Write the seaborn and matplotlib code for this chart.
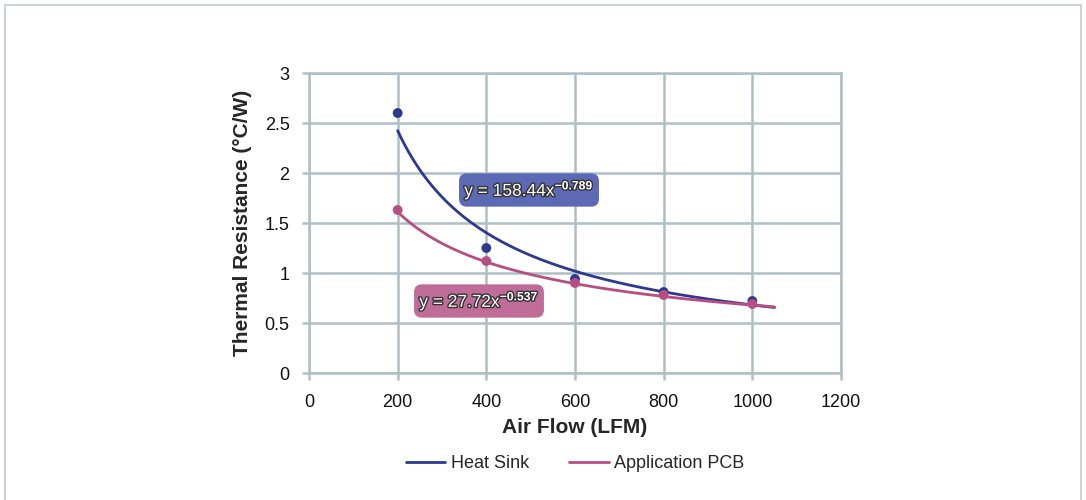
import numpy as np
import pandas as pd
import matplotlib.pyplot as plt
import matplotlib.patheffects as pe
from matplotlib.patches import Rectangle
import seaborn as sns

# measured points
air_flow = [200, 400, 600, 800, 1000]
heat_sink = [2.60, 1.25, 0.94, 0.81, 0.72]
app_pcb = [1.63, 1.12, 0.90, 0.78, 0.69]

# power trendlines shown on the chart (y = a * x^b)
series_names = ["Heat Sink", "Application PCB"]
trend_a = [158.44, 27.72]
trend_b = [-0.789, -0.537]
trend_x_end = 1050

colors = ["#2B3990", "#B84D84"]
box_colors = ["#5C6AB5", "#C06C98"]
grid_col = "#AEBFC8"

sns.set_theme(style="white")
plt.rcParams["font.family"] = ["Liberation Sans", "DejaVu Sans"]
plt.rcParams["mathtext.fontset"] = "custom"
plt.rcParams["mathtext.rm"] = "Liberation Sans"
plt.rcParams["mathtext.it"] = "Liberation Sans"
plt.rcParams["mathtext.bf"] = "Liberation Sans:bold"

fig = plt.figure(figsize=(10.86, 5.0), dpi=100)
ax = fig.add_axes([309 / 1086, 1 - 373 / 500, 532 / 1086, 300 / 500])

points = pd.DataFrame({
    "Air Flow": air_flow * 2,
    "R": heat_sink + app_pcb,
    "series": [series_names[0]] * 5 + [series_names[1]] * 5,
})

xs = np.linspace(air_flow[0], trend_x_end, 200)
trend = pd.concat([
    pd.DataFrame({"Air Flow": xs, "R": a * xs ** b, "series": name})
    for name, a, b in zip(series_names, trend_a, trend_b)
])

palette = dict(zip(series_names, colors))
sns.lineplot(data=trend, x="Air Flow", y="R", hue="series", palette=palette,
             linewidth=2, ax=ax, zorder=3)
sns.scatterplot(data=points, x="Air Flow", y="R", hue="series", palette=palette,
                s=50, edgecolor="none", ax=ax, legend=False, zorder=4)

ax.set_xlim(0, 1200)
ax.set_ylim(0, 3)
ax.set_xticks(range(0, 1201, 200))
ax.set_yticks([0, 0.5, 1, 1.5, 2, 2.5, 3])
ax.set_yticklabels(["0", "0.5", "1", "1.5", "2", "2.5", "3"])
ax.grid(True, color=grid_col, linewidth=1.8)
for s in ax.spines.values():
    s.set_color(grid_col)
    s.set_linewidth(1.8)
ax.tick_params(axis="both", which="both", length=5, width=1.8, color=grid_col,
               labelsize=13, labelcolor="#111111", direction="out")
ax.tick_params(axis="x", bottom=True, pad=10)
ax.tick_params(axis="y", left=True, pad=9)

ax.set_xlabel("Air Flow (LFM)", fontsize=15, fontweight="bold", labelpad=5)
ax.set_ylabel("Thermal Resistance (°C/W)", fontsize=15, fontweight="bold", labelpad=9)

# equation labels
fx = [("158.44", "-0.789"), ("27.72", "-0.537")]
label_pos = [(529, 190), (479, 301)]
for (coef, exp_), (px, py), bc in zip(fx, label_pos, box_colors):
    t = ax.annotate(r"y = %sx$^{\mathbf{%s}}$" % (coef, exp_),
                    xy=(px / 1086, 1 - py / 500), xycoords="figure fraction",
                    ha="center", va="center", fontsize=12.5, color="white",
                    bbox=dict(boxstyle="round,pad=0.3,rounding_size=0.45",
                              fc=bc, ec="none"), zorder=6)
    t.set_path_effects([pe.withStroke(linewidth=2, foreground="#333333")])

leg = ax.legend(loc="upper center", bbox_to_anchor=(0.5, -0.22), ncol=2,
                frameon=False, fontsize=13, handlelength=2.2, handletextpad=0.3,
                columnspacing=2.2, title=None)
for line in leg.get_lines():
    line.set_linewidth(2)

fig.patches.append(Rectangle((5 / 1086, -0.05), 1076 / 1086, 1.04,
                             transform=fig.transFigure, fill=False,
                             ec="#C9D3D8", lw=1.5))

fig.savefig("out.png", dpi=100)
